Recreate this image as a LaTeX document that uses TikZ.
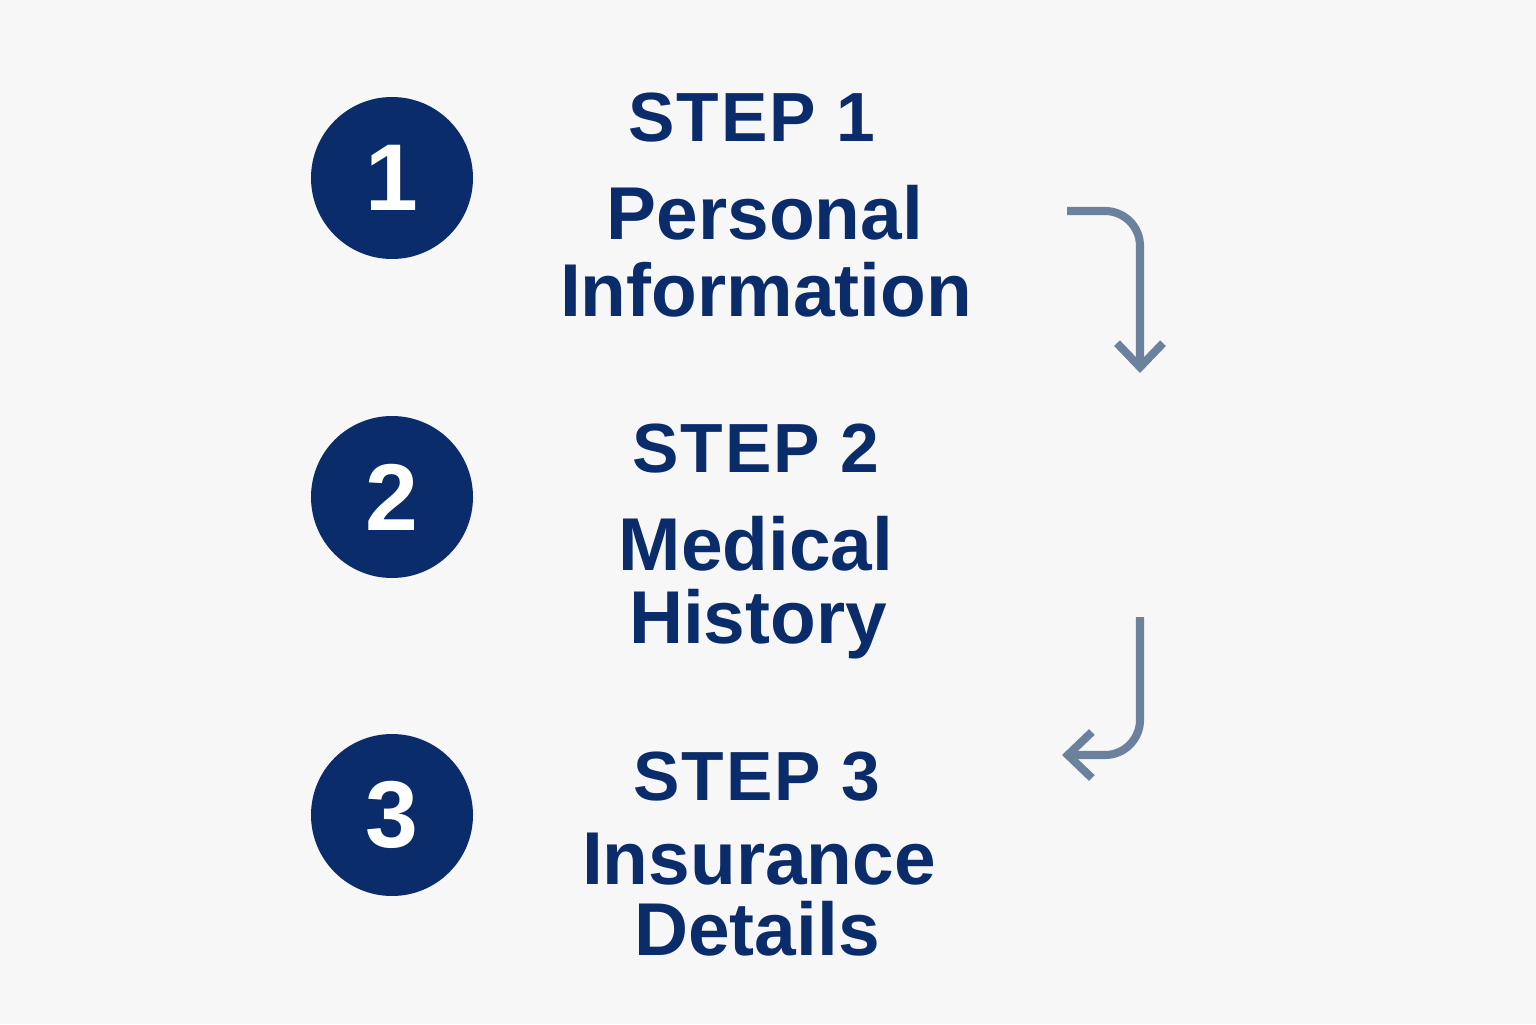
\documentclass[tikz,border=0pt]{standalone}
\usepackage{fontspec}
\setmainfont{Liberation Sans}
\usepackage{tikz}
\usetikzlibrary{arrows.meta, positioning}
\usepackage{xcolor}
\definecolor{navy}{HTML}{0B2C6A}
\definecolor{slate}{HTML}{6C819D}
\definecolor{paper}{HTML}{F7F7F7}

\begin{document}
\begin{tikzpicture}[
  numdot/.style={circle, fill=navy, minimum size=16.2mm, inner sep=0pt,
                 text=white, font=\fontsize{27}{27}\selectfont\bfseries},
  steplabel/.style={anchor=base, text=navy,
                    font=\fontsize{19.8}{20}\selectfont\bfseries\addfontfeatures{LetterSpace=2.5}},
  title/.style={anchor=base, text=navy, font=\fontsize{21.3}{22}\selectfont\bfseries},
  flow/.style={draw=slate, line width=2.3pt, rounded corners=3.5mm,
               -{Straight Barb[length=2.4mm, width=4.6mm]}}
]
% page
\fill[paper] (0,0) rectangle (15.36,10.24);
\useasboundingbox (0,0) rectangle (15.36,10.24);
% numbered circles
\node[numdot] (c1) at (3.92,8.46) {1};
\node[numdot] (c2) at (3.92,5.27) {2};
\node[numdot] (c3) at (3.92,2.09) {3};
% step 1
\node[steplabel] (s1) at (7.52,8.82) {STEP 1};
\node[title]     (t1a) at (7.65,7.84) {Personal};
\node[title]     (t1b) at (7.66,7.08) {Information};
% step 2
\node[steplabel] (s2) at (7.56,5.52) {STEP 2};
\node[title]     (t2a) at (7.56,4.54) {Medical};
\node[title]     (t2b) at (7.58,3.81) {History};
% step 3
\node[steplabel] (s3) at (7.57,2.24) {STEP 3};
\node[title]     (t3a) at (7.59,1.40) {Insurance};
\node[title]     (t3b) at (7.57,0.69) {Details};
% flow arrows
\coordinate (a1s) at (10.67,8.13);
\coordinate (a1k) at (11.40,8.13);
\coordinate (a1e) at (11.40,6.51);
\coordinate (a2s) at (11.40,4.07);
\coordinate (a2k) at (11.40,2.69);
\coordinate (a2e) at (10.62,2.69);
\draw[flow] (a1s) -- (a1k) -- (a1e);
\draw[flow] (a2s) -- (a2k) -- (a2e);
\end{tikzpicture}
\end{document}
